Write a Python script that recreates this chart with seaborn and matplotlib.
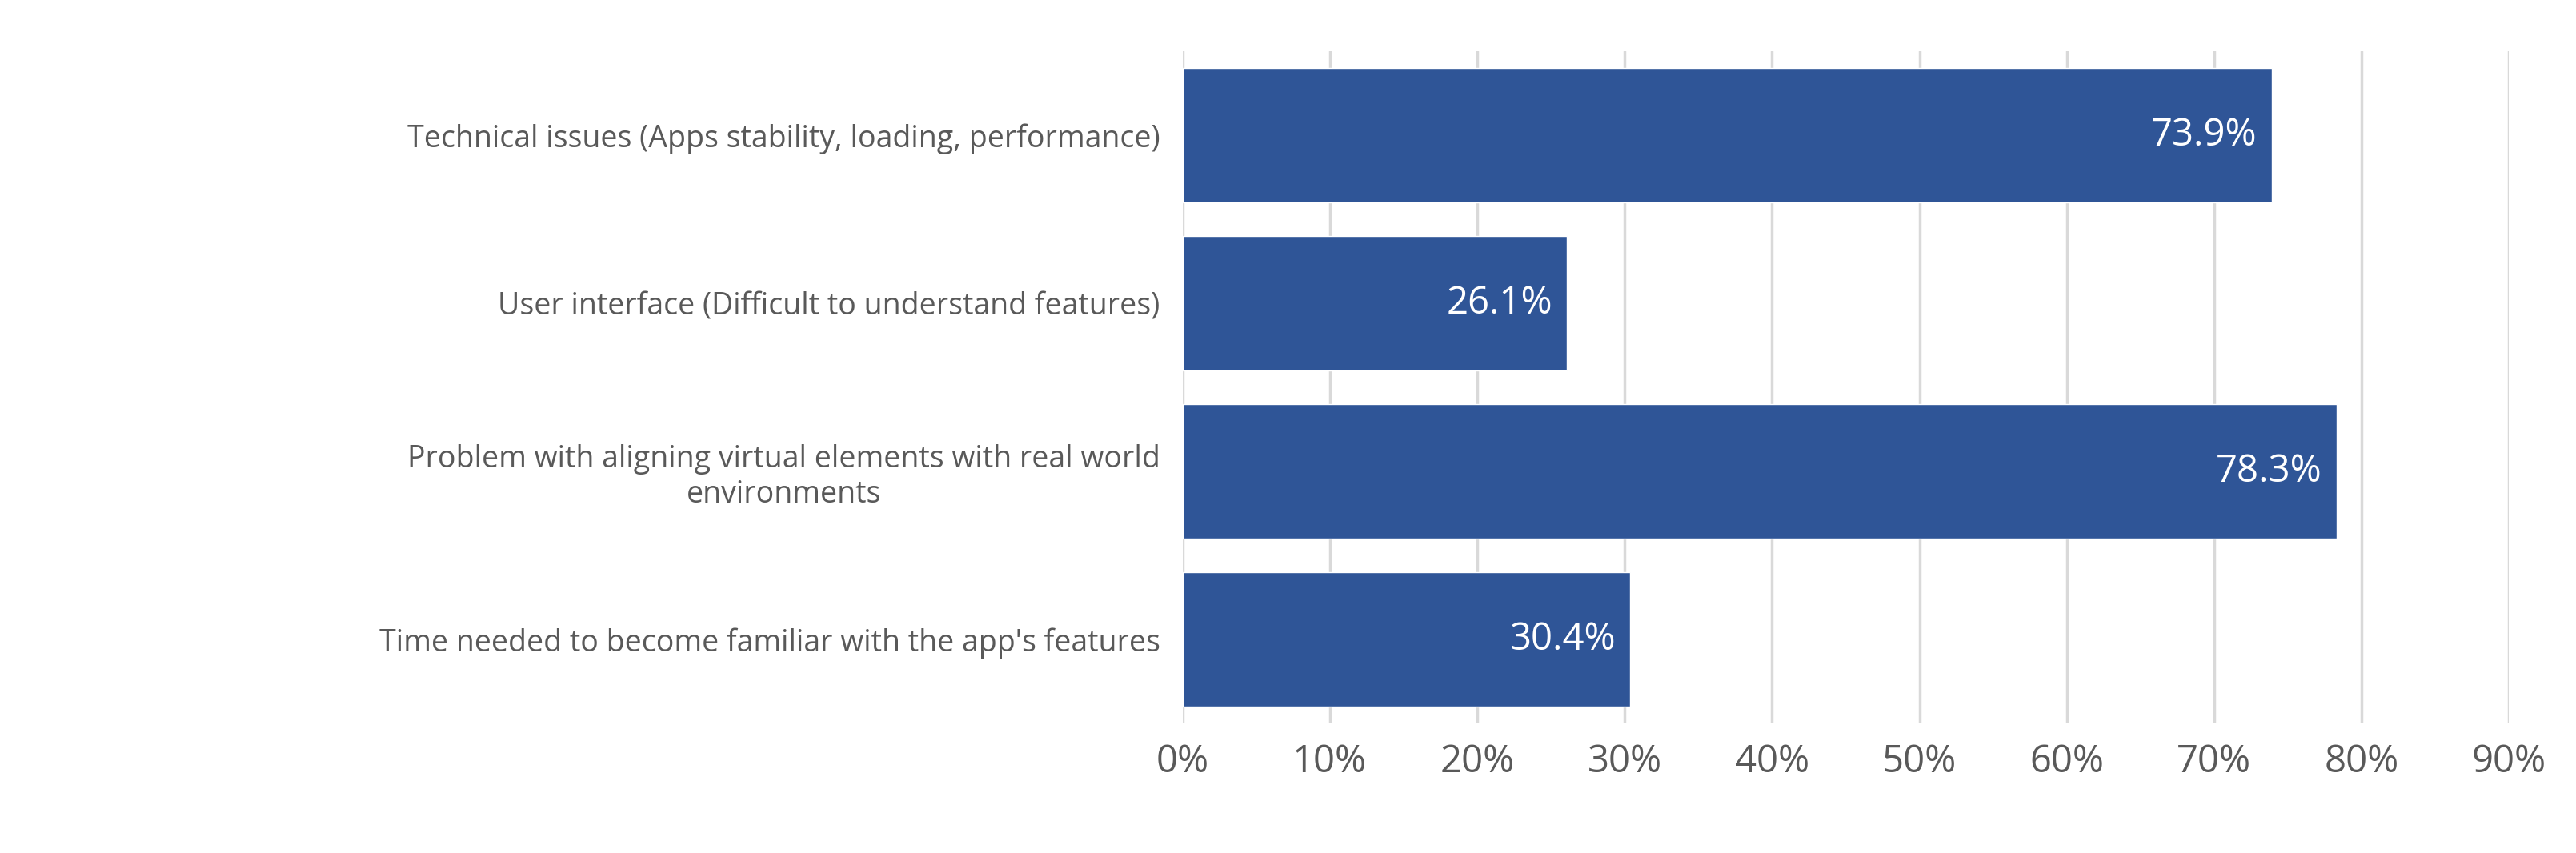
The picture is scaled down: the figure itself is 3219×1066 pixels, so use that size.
import matplotlib
matplotlib.use("Agg")
import matplotlib.pyplot as plt
import seaborn as sns
import pandas as pd

categories = ["Technical issues (Apps stability, loading, performance)",
              "User interface (Difficult to understand features)",
              "Problem with aligning virtual elements with real world\nenvironments",
              "Time needed to become familiar with the app's features"]
values = [73.9, 26.1, 78.3, 30.4]
xticks = [0, 10, 20, 30, 40, 50, 60, 70, 80, 90]

sns.set_theme(style="white")
plt.rcParams['font.family'] = ['Open Sans', 'DejaVu Sans']
df = pd.DataFrame({"cat": categories, "val": values})

fig = plt.figure(figsize=(32.19, 10.66), dpi=100)
ax = fig.add_axes([0.459, 0.152, 0.515, 0.788])
sns.barplot(data=df, y="cat", x="val", color="#2F5597", saturation=1, width=0.8, ax=ax, zorder=3)
ax.set_xlim(0, 90)
ax.set_xticks(xticks)
ax.set_xticklabels([f"{t}%" for t in xticks], fontsize=34, color="#595959")
ax.tick_params(axis="y", labelsize=27, labelcolor="#595959", length=0, pad=20)
ax.tick_params(axis="x", length=0, pad=18)
for lab in ax.get_yticklabels():
    lab.set_horizontalalignment("right")
    lab.set_multialignment("center")
ax.grid(axis="x", color="#D9D9D9", linewidth=2.5, zorder=0)
for s in ax.spines.values():
    s.set_visible(False)
ax.set_xlabel("")
ax.set_ylabel("")
for i, v in enumerate(values):
    ax.text(v - 1.0, i, f"{v}%", ha="right", va="center", color="white", fontsize=34, zorder=4)
fig.savefig("out.png", dpi=100)
